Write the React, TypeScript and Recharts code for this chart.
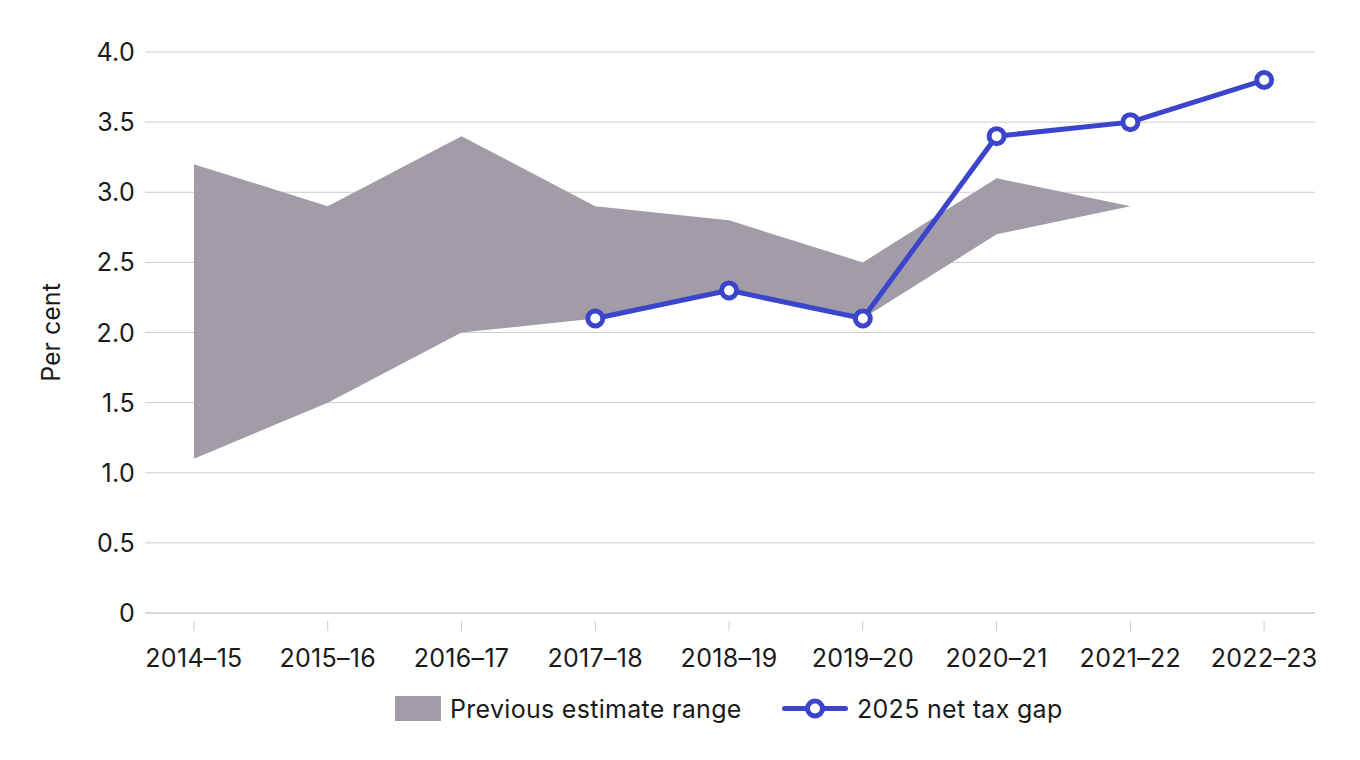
import React from 'react'
import { ComposedChart, Area, Line, XAxis, YAxis, CartesianGrid } from 'recharts'

const years = ['2014–15', '2015–16', '2016–17', '2017–18', '2018–19', '2019–20', '2020–21', '2021–22', '2022–23']
const rangeLow = [1.1, 1.5, 2.0, 2.1, 2.3, 2.1, 2.7, 2.9, null]
const rangeHigh = [3.2, 2.9, 3.4, 2.9, 2.8, 2.5, 3.1, 2.9, null]
const netTaxGap = [null, null, null, 2.1, 2.3, 2.1, 3.4, 3.5, 3.8]
const yTicks = [0, 0.5, 1, 1.5, 2, 2.5, 3, 3.5, 4]

const AREA = '#a19ca7'
const LINE = '#3a45cc'
const TEXT = '#1a1a1a'
const FONT = 'Inter, "Noto Sans", sans-serif'

const data = years.map((year, i) => ({
  i,
  year,
  range: rangeLow[i] == null ? null : [rangeLow[i], rangeHigh[i]],
  gap: netTaxGap[i],
}))

const XTick = (props: any) => {
  const { x, y, payload } = props
  return (
    <g>
      <line x1={x} x2={x} y1={y} y2={y + 10} stroke="#cccccc" />
      <text x={x} y={y + 46} textAnchor="middle" fill={TEXT} fontSize={25} fontFamily={FONT} letterSpacing={0.3}>
        {years[payload.value]}
      </text>
    </g>
  )
}

const YTick = (props: any) => {
  const { y, payload } = props
  const v = payload.value as number
  return (
    <text x={135} y={y + 9} textAnchor="end" fill={TEXT} fontSize={25} fontFamily={FONT} letterSpacing={0.3}>
      {v === 0 ? '0' : v.toFixed(1)}
    </text>
  )
}

// legend drawn as plain html under the chart
const ChartLegend = () => (
  <div
    style={{
      position: 'absolute',
      left: 395,
      top: 696,
      height: 25,
      display: 'flex',
      alignItems: 'center',
      fontFamily: FONT,
      fontSize: 25,
      letterSpacing: 0.3,
      color: TEXT,
      whiteSpace: 'nowrap',
    }}
  >
    <span style={{ display: 'inline-block', width: 46, height: 25, background: AREA, marginRight: 9 }} />
    <span style={{ width: 291, marginRight: 41 }}>Previous estimate range</span>
    <svg width={66} height={25} style={{ marginRight: 9 }}>
      <line x1={2.5} x2={63.5} y1={12.5} y2={12.5} stroke={LINE} strokeWidth={5} strokeLinecap="round" />
      <circle cx={33} cy={12.5} r={7.5} fill="#fff" stroke={LINE} strokeWidth={5} />
    </svg>
    <span>2025 net tax gap</span>
  </div>
)

export default function App() {
  return (
    <div style={{ position: 'absolute', left: 0, top: 0, width: 1360, height: 760, background: '#fff' }}>
      <ComposedChart width={1360} height={760} data={data} margin={{ top: 52, right: 45, bottom: 0, left: 0 }}>
        <CartesianGrid vertical={false} stroke="#cccccc" />
        <XAxis
          dataKey="i"
          type="number"
          domain={[-0.366, 8.38]}
          ticks={[0, 1, 2, 3, 4, 5, 6, 7, 8]}
          tick={<XTick />}
          tickLine={false}
          axisLine={{ stroke: '#cccccc' }}
          height={147}
          interval={0}
        />
        <YAxis
          domain={[0, 4]}
          ticks={yTicks}
          tick={<YTick />}
          tickLine={false}
          axisLine={false}
          width={145}
          label={{
            value: 'Per cent',
            angle: -90,
            position: 'insideLeft',
            offset: 51,
            style: { fontFamily: FONT, fontSize: 25, fill: TEXT, textAnchor: 'middle' },
          }}
        />
        <Area dataKey="range" stroke="none" fill={AREA} fillOpacity={1} isAnimationActive={false} />
        <Line
          dataKey="gap"
          stroke={LINE}
          strokeWidth={5}
          dot={{ r: 7.5, fill: '#fff', stroke: LINE, strokeWidth: 5 }}
          activeDot={false}
          isAnimationActive={false}
        />
      </ComposedChart>
      <ChartLegend />
    </div>
  )
}
